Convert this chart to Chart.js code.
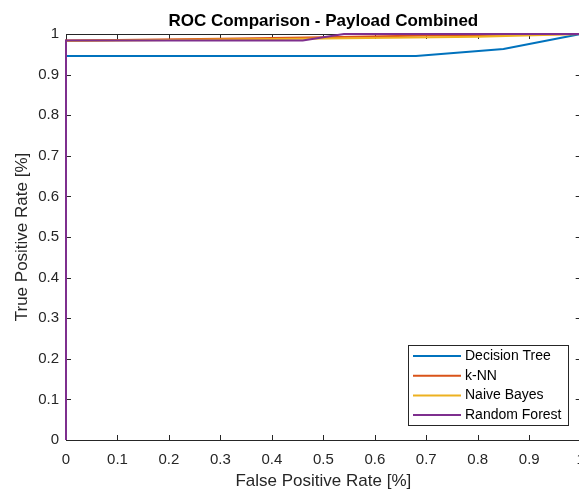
<!DOCTYPE html>
<html>
<head>
<meta charset="utf-8">
<title>ROC Comparison - Payload Combined</title>
<script src="https://cdn.jsdelivr.net/npm/chart.js@4/dist/chart.umd.min.js"></script>
<style>
  html, body { margin: 0; padding: 0; background: #fff; overflow: hidden; }
  canvas { display: block; }
</style>
</head>
<body>
<canvas id="roc" width="600" height="493"></canvas>
<script>
// ROC curves (FPR on x, TPR on y)
const seriesNames = ["Decision Tree", "k-NN", "Naive Bayes", "Random Forest"];
const seriesColors = ["#0072BD", "#D95319", "#EDB120", "#7E2F8E"];

const dtFpr = [0, 0, 0.68, 0.85, 1];
const dtTpr = [0, 0.946, 0.946, 0.963, 1];

const knnFpr = [0, 0, 0.1, 0.3, 0.5, 0.7, 1];
const knnTpr = [0, 0.984, 0.985, 0.988, 0.992, 0.996, 1];

const nbFpr = [0, 0, 0.2, 0.5, 0.8, 1];
const nbTpr = [0, 0.983, 0.985, 0.989, 0.993, 1];

const rfFpr = [0, 0, 0.46, 0.54, 1];
const rfTpr = [0, 0.984, 0.984, 1, 1];

const tickValues = [0, 0.1, 0.2, 0.3, 0.4, 0.5, 0.6, 0.7, 0.8, 0.9, 1];

const axisColor = "#262626";
const font = "'Liberation Sans', Arial, Helvetica, sans-serif";

const toPoints = (xs, ys) => xs.map((x, i) => ({x: x, y: ys[i]}));
const allSeries = [
    toPoints(dtFpr, dtTpr),
    toPoints(knnFpr, knnTpr),
    toPoints(nbFpr, nbTpr),
    toPoints(rfFpr, rfTpr)
];

const fmt = v => String(Number(v.toFixed(1)));

// MATLAB style box, inward ticks, title, labels and legend
const matlabAxes = {
    id: 'matlabAxes',
    beforeDatasetsDraw(chart) {
        const {ctx, chartArea: a, scales: {x, y}} = chart;
        ctx.save();
        ctx.strokeStyle = axisColor;
        ctx.lineWidth = 1;
        ctx.strokeRect(Math.round(a.left) + 0.5, Math.round(a.top) + 0.5,
            Math.round(a.right - a.left), Math.round(a.bottom - a.top));
        ctx.beginPath();
        tickValues.forEach(v => {
            const px = Math.round(x.getPixelForValue(v)) + 0.5;
            ctx.moveTo(px, a.bottom); ctx.lineTo(px, a.bottom - 5);
            ctx.moveTo(px, a.top); ctx.lineTo(px, a.top + 5);
            const py = Math.round(y.getPixelForValue(v)) + 0.5;
            ctx.moveTo(a.left, py); ctx.lineTo(a.left + 5, py);
            ctx.moveTo(a.right, py); ctx.lineTo(a.right - 5, py);
        });
        ctx.stroke();
        ctx.restore();
    },
    afterDraw(chart) {
        const {ctx, chartArea: a} = chart;
        const cx = (a.left + a.right) / 2;
        ctx.save();

        // Title
        ctx.fillStyle = "#000";
        ctx.font = "bold 17px " + font;
        ctx.textAlign = "center";
        ctx.textBaseline = "alphabetic";
        ctx.fillText("ROC Comparison - Payload Combined", cx, 26);

        // Axis labels
        ctx.fillStyle = axisColor;
        ctx.font = "17px " + font;
        ctx.fillText("False Positive Rate [%]", cx, 486);
        ctx.save();
        ctx.translate(27, (a.top + a.bottom) / 2);
        ctx.rotate(-Math.PI / 2);
        ctx.fillText("True Positive Rate [%]", 0, 0);
        ctx.restore();

        // Legend
        const lx = 408, ly = 345, lw = 160, lh = 80;
        ctx.fillStyle = "#fff";
        ctx.fillRect(lx, ly, lw, lh);
        ctx.strokeStyle = axisColor;
        ctx.lineWidth = 1;
        ctx.strokeRect(lx + 0.5, ly + 0.5, lw, lh);
        ctx.font = "14px " + font;
        ctx.textAlign = "left";
        ctx.textBaseline = "middle";
        seriesNames.forEach((name, i) => {
            const ey = ly + 11 + i * 19.7;
            ctx.strokeStyle = seriesColors[i];
            ctx.lineWidth = 2;
            ctx.beginPath();
            ctx.moveTo(lx + 5, ey);
            ctx.lineTo(lx + 53, ey);
            ctx.stroke();
            ctx.fillStyle = "#000";
            ctx.fillText(name, lx + 57, ey);
        });
        ctx.restore();
    }
};

new Chart(document.getElementById('roc'), {
    type: 'line',
    data: {
        datasets: allSeries.map((pts, i) => ({
            label: seriesNames[i],
            data: pts,
            borderColor: seriesColors[i],
            backgroundColor: seriesColors[i],
            borderWidth: 2,
            pointRadius: 0,
            tension: 0,
            fill: false,
            clip: false,
            // later series are plotted on top, as in the original
            order: seriesNames.length - i
        }))
    },
    options: {
        responsive: false,
        animation: false,
        devicePixelRatio: 1,
        layout: {
            padding: {top: 34, right: 19.3, left: 0, bottom: 0}
        },
        plugins: {
            legend: {display: false},
            title: {display: false},
            tooltip: {enabled: false}
        },
        scales: {
            x: {
                type: 'linear',
                min: 0,
                max: 1,
                border: {display: false},
                grid: {display: false, drawTicks: false},
                afterFit: s => { s.height = 53; },
                afterBuildTicks: s => { s.ticks = tickValues.map(v => ({value: v})); },
                ticks: {
                    padding: 11,
                    color: axisColor,
                    font: {family: font, size: 15},
                    maxRotation: 0,
                    autoSkip: false,
                    callback: v => fmt(v)
                }
            },
            y: {
                type: 'linear',
                min: 0,
                max: 1,
                border: {display: false},
                grid: {display: false, drawTicks: false},
                afterFit: s => { s.width = 66; },
                afterBuildTicks: s => { s.ticks = tickValues.map(v => ({value: v})); },
                ticks: {
                    padding: 7,
                    color: axisColor,
                    font: {family: font, size: 15},
                    autoSkip: false,
                    callback: v => fmt(v)
                }
            }
        }
    },
    plugins: [matlabAxes]
});
</script>
</body>
</html>
